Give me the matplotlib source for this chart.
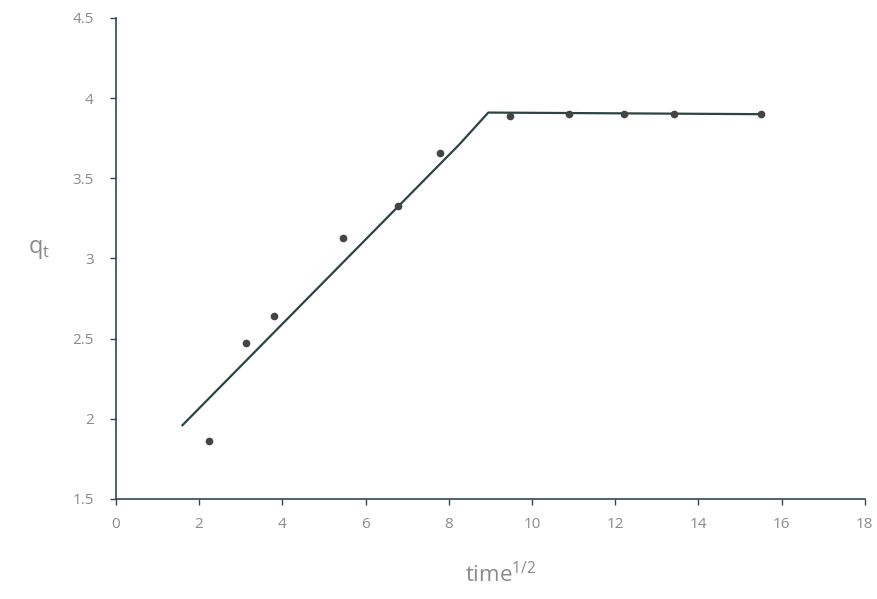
import matplotlib
matplotlib.use("Agg")
import matplotlib.pyplot as plt

# measured points (sqrt time vs q_t)
pts_x = [2.24, 3.13, 3.8, 5.46, 6.78, 7.8, 9.47, 10.9, 12.22, 13.41, 15.5]
pts_y = [1.86, 2.475, 2.64, 3.125, 3.33, 3.655, 3.89, 3.90, 3.90, 3.90, 3.90]

# fitted multi-linear line
line_x = [1.6, 8.25, 8.95, 15.5]
line_y = [1.96, 3.71, 3.91, 3.90]

x_ticks = [0, 2, 4, 6, 8, 10, 12, 14, 16, 18]
y_ticks = [1.5, 2, 2.5, 3, 3.5, 4, 4.5]
y_tick_labels = ["1.5", "2", "2.5", "3", "3.5", "4", "4.5"]

axis_col = "#2f4a4a"
text_col = "#8a8a8a"

plt.rcParams["font.family"] = ["Open Sans", "DejaVu Sans"]

fig = plt.figure(figsize=(8.78, 5.99), dpi=100)
ax = fig.add_axes([0.132, 0.167, 0.853, 0.803])

ax.plot(line_x, line_y, color="#2c4444", lw=1.6, zorder=2)
ax.plot(pts_x, pts_y, linestyle="none", marker="o", ms=4.5,
        color="#444444", zorder=3)

ax.set_xlim(0, 18)
ax.set_ylim(1.5, 4.5)
ax.set_xticks(x_ticks)
ax.set_yticks(y_ticks)
ax.set_yticklabels(y_tick_labels)

for s in ["top", "right"]:
    ax.spines[s].set_visible(False)
for s in ["left", "bottom"]:
    ax.spines[s].set_color(axis_col)
    ax.spines[s].set_linewidth(1.2)

ax.tick_params(axis="both", direction="out", length=4, width=1,
               color=axis_col, labelcolor=text_col, labelsize=11)
ax.tick_params(axis="x", pad=9)
ax.tick_params(axis="y", pad=12)

fig.text(0.045, 0.585, r"q$_\mathregular{t}$", fontsize=17, color=text_col,
         ha="center", va="center")
fig.text(0.57, 0.04, r"time$^\mathregular{1/2}$", fontsize=16, color=text_col,
         ha="center", va="center")

fig.savefig("out.png", dpi=100)
